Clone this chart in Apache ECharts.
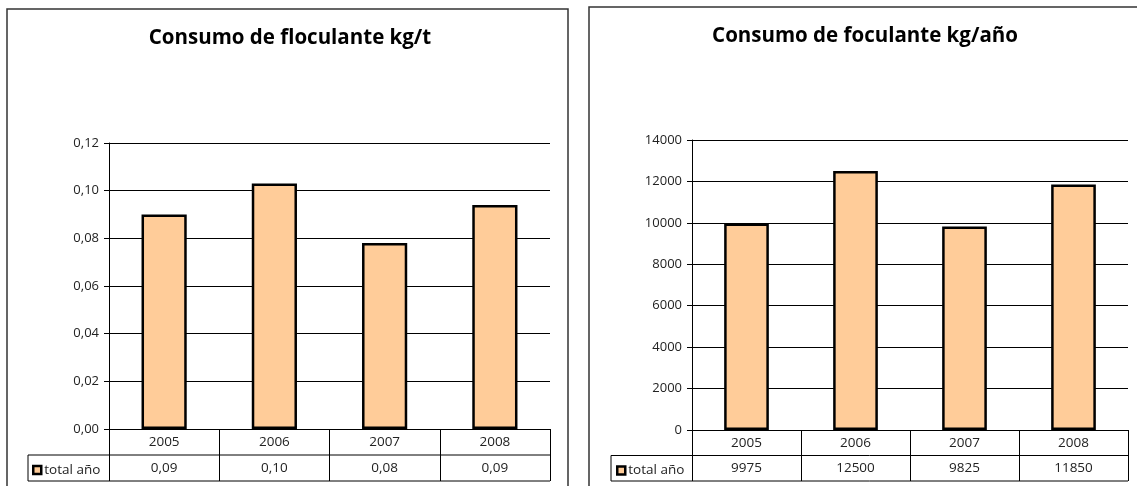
<!DOCTYPE html>
<html>
<head>
<meta charset="utf-8">
<script src="https://cdn.jsdelivr.net/npm/echarts@6/dist/echarts.min.js"></script>
<style>
  html, body { margin: 0; padding: 0; background: #fff; }
  #chart { width: 1137px; height: 486px; }
</style>
</head>
<body>
<div id="chart"></div>
<script>
// Years shown on both charts
const years = ['2005', '2006', '2007', '2008'];
// Flocculant use per tonne (kg/t)
const kgPerTonne = [0.090, 0.103, 0.078, 0.094];
// Flocculant use per year (kg/año)
const kgPerYear = [9975, 12500, 9825, 11850];
// Value-axis ticks
const ticksLeft = [0, 0.02, 0.04, 0.06, 0.08, 0.10, 0.12];
const ticksRight = [0, 2000, 4000, 6000, 8000, 10000, 12000, 14000];

const seriesName = 'total año';
const FONT = "'Open Sans', 'Noto Sans', sans-serif";
const BAR = '#FFCC99';
const TABLE_FS = 13.5;

// Layout of the two panels (pixels)
const L = { left: 109, right: 550, top: 143, bottom: 429, rowH: 26, cellLeft: 28 };
const R = { left: 692, right: 1128, top: 140, bottom: 430, rowH: 25.5, cellLeft: 611 };

const fmtComma = (v, d) => v.toFixed(d).replace('.', ',');

function grid(p) {
  return { left: p.left, top: p.top, width: p.right - p.left, height: p.bottom - p.top };
}

function xAxis(idx, values, fmt, p) {
  return {
    type: 'category', gridIndex: idx, data: years, position: 'bottom',
    axisLine: { show: true, lineStyle: { color: '#000', width: 1 } },
    axisTick: { show: true, alignWithLabel: false, inside: false, length: 2 * p.rowH, lineStyle: { color: '#000', width: 1 } },
    axisLabel: {
      interval: 0, margin: 0, color: '#222', fontFamily: FONT,
      formatter: (val, i) => '{y|' + val + '}\n{v|' + fmt(values[i]) + '}',
      rich: {
        y: { fontSize: TABLE_FS, lineHeight: p.rowH, fontFamily: FONT, color: '#222' },
        v: { fontSize: TABLE_FS, lineHeight: p.rowH, fontFamily: FONT, color: '#222' }
      }
    },
    splitLine: { show: false }
  };
}

function yAxis(idx, ticks, fmt) {
  return {
    type: 'value', gridIndex: idx,
    min: ticks[0], max: ticks[ticks.length - 1], interval: ticks[1] - ticks[0],
    axisLine: { show: true, lineStyle: { color: '#000', width: 1 } },
    axisTick: { show: true, length: 5, lineStyle: { color: '#000' } },
    axisLabel: { margin: 10, fontSize: 13, color: '#222', fontFamily: FONT, formatter: fmt },
    splitLine: { show: true, lineStyle: { color: '#000', width: 1 } }
  };
}

// Table frame lines under each plot
function tableLines(p) {
  const y1 = p.bottom + p.rowH, y2 = p.bottom + 2 * p.rowH;
  const s = { stroke: '#000', lineWidth: 1 };
  return [
    { type: 'line', shape: { x1: p.cellLeft, y1: y1, x2: p.right, y2: y1 }, style: s, silent: true },
    { type: 'line', shape: { x1: p.cellLeft, y1: y2, x2: p.right, y2: y2 }, style: s, silent: true },
    { type: 'line', shape: { x1: p.cellLeft, y1: y1, x2: p.cellLeft, y2: y2 }, style: s, silent: true }
  ];
}

const legendBase = {
  data: [seriesName], orient: 'horizontal', icon: 'rect',
  itemWidth: 8, itemHeight: 8, itemGap: 0, padding: 0,
  itemStyle: { color: BAR, borderColor: '#000', borderWidth: 2.5 },
  textStyle: { fontSize: TABLE_FS, color: '#222', fontFamily: FONT, padding: [0, 0, 0, -2] },
  selectedMode: false
};

const chart = echarts.init(document.getElementById('chart'), null, { renderer: 'canvas' });
chart.setOption({
  animation: false,
  backgroundColor: '#fff',
  textStyle: { fontFamily: FONT },
  title: [
    { text: 'Consumo de floculante kg/t', left: 285, top: 23, textAlign: 'center',
      textStyle: { fontSize: 20.5, fontWeight: 'bold', color: '#000', fontFamily: FONT } },
    { text: 'Consumo de foculante kg/año', left: 860, top: 21, textAlign: 'center',
      textStyle: { fontSize: 20.5, fontWeight: 'bold', color: '#000', fontFamily: FONT } }
  ],
  legend: [
    Object.assign({}, legendBase, { left: L.cellLeft + 4, top: L.bottom + L.rowH + 8 }),
    Object.assign({}, legendBase, { left: R.cellLeft + 5, top: R.bottom + R.rowH + 8 })
  ],
  grid: [grid(L), grid(R)],
  xAxis: [
    xAxis(0, kgPerTonne, v => fmtComma(v, 2), L),
    xAxis(1, kgPerYear, v => String(v), R)
  ],
  yAxis: [
    yAxis(0, ticksLeft, v => fmtComma(v, 2)),
    yAxis(1, ticksRight, v => String(v))
  ],
  series: [
    { name: seriesName, type: 'bar', xAxisIndex: 0, yAxisIndex: 0, data: kgPerTonne, barWidth: '41%',
      itemStyle: { color: BAR, borderColor: '#000', borderWidth: 2.5 } },
    { name: seriesName, type: 'bar', xAxisIndex: 1, yAxisIndex: 1, data: kgPerYear, barWidth: '41%',
      itemStyle: { color: BAR, borderColor: '#000', borderWidth: 2.5 } }
  ],
  graphic: [
    { type: 'rect', shape: { x: 7, y: 9, width: 561, height: 500 },
      style: { fill: 'none', stroke: '#333', lineWidth: 1.5 }, silent: true, z: -1 },
    { type: 'rect', shape: { x: 589, y: 7, width: 560, height: 500 },
      style: { fill: 'none', stroke: '#333', lineWidth: 1.5 }, silent: true, z: -1 }
  ].concat(tableLines(L), tableLines(R))
});
</script>
</body>
</html>
